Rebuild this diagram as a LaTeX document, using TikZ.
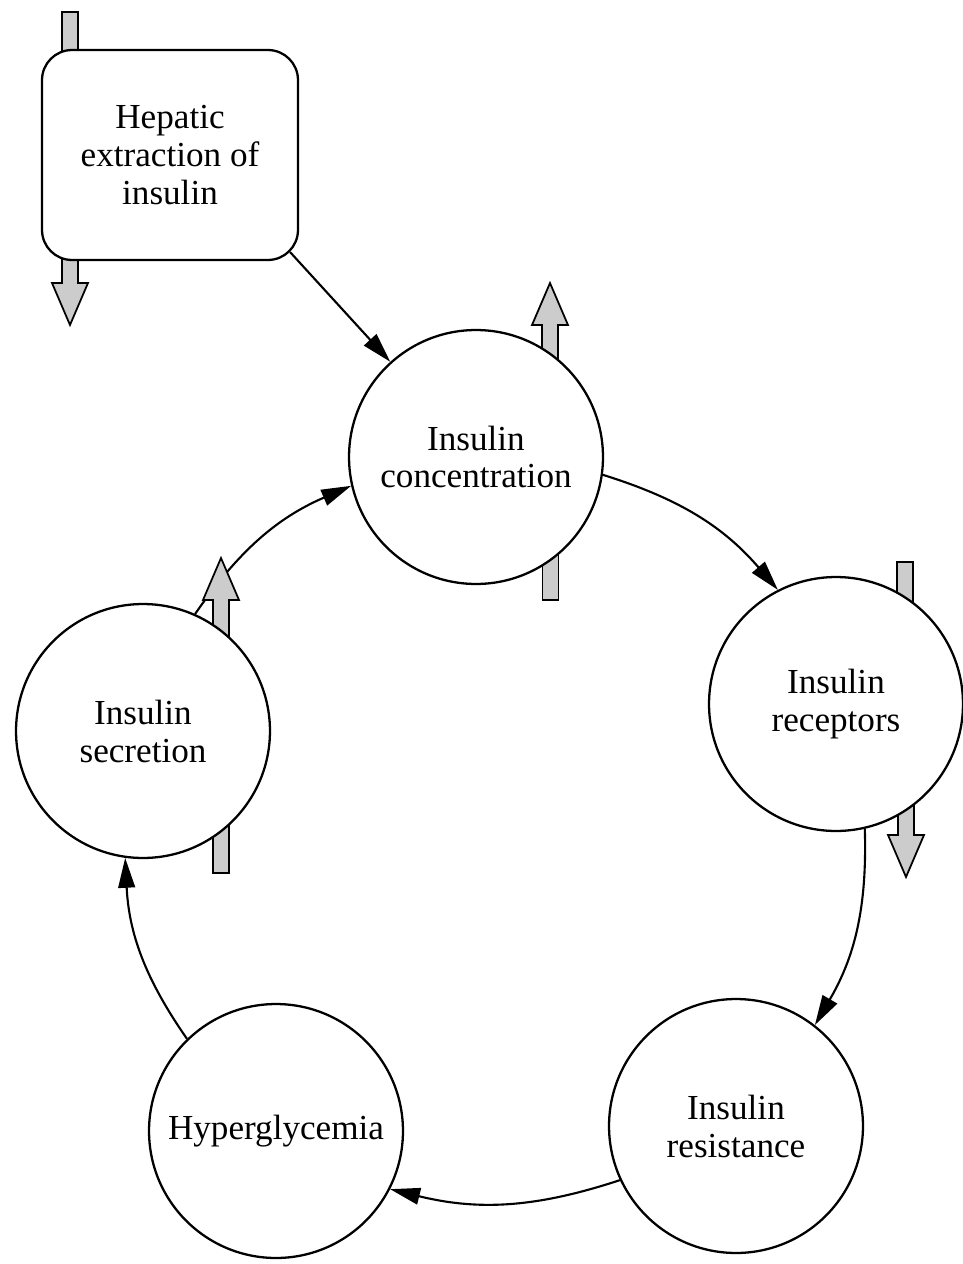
\documentclass[tikz,border=0pt]{standalone}
\usepackage{fontspec}
\setmainfont{Liberation Serif}
\usetikzlibrary{arrows.meta}
\pgfdeclarelayer{bg}
\pgfdeclarelayer{mid}
\pgfsetlayers{bg,mid,main}
\newcommand{\blkarrow}[4]{% centre x, shaft start y, head base y, tip y
  \draw[blk] ({#1-8},#2) -- ({#1-8},#3) -- ({#1-18},#3) -- (#1,#4) -- ({#1+18},#3) -- ({#1+8},#3) -- ({#1+8},#2) -- cycle;}
\begin{document}
\begin{tikzpicture}[x=0.02cm,y=-0.02cm,
  txt/.style={font=\fontsize{20}{21.6}\selectfont, align=center},
  bubble/.style={txt, circle, draw, line width=1.3pt, fill=white, minimum size=5.08cm, inner sep=0pt},
  hepbox/.style={txt, draw, line width=1.3pt, fill=white, rounded corners=0.6cm, minimum width=5.12cm, minimum height=4.2cm},
  conn/.style={line width=1.2pt, -{Triangle[length=17pt,width=9.5pt]}},
  blk/.style={draw, line width=1pt, fill=gray!40}
]
\useasboundingbox (0,0) rectangle (963,1264);

\node[hepbox] (hep) at (170,155) {Hepatic\\extraction of\\insulin};
\node[bubble] (conc) at (476,457) {Insulin\\concentration};
\node[bubble] (rec) at (836,704) {Insulin\\receptors};
\node[bubble] (res) at (736,1126) {Insulin\\resistance};
\node[bubble] (hyp) at (276,1131) {Hyperglycemia};
\node[bubble] (sec) at (143,731) {Insulin\\secretion};

\begin{pgfonlayer}{bg}
\draw[conn] ([shift={(-9,-9)}]hep.south east) -- (conc.132);
\draw[conn] (conc.-8) to[bend left=16] (rec.117);
\draw[conn] (rec.-77) to[bend left=16] (res.52);
\draw[conn] (res.205) to[bend left=16] (hyp.-27);
\draw[conn] (hyp.134) to[bend left=16] (sec.262);
\draw[conn] (sec.66) to[bend left=16] (conc.193);
\end{pgfonlayer}

\begin{pgfonlayer}{mid}
\draw[blk] (62,12) rectangle (78,80);
\blkarrow{70}{240}{283}{325}
\blkarrow{550}{370}{325}{283}
\draw[blk] (542.5,540) rectangle (558.5,600);
\draw[blk] (897,562) rectangle (913,620);
\blkarrow{906}{790}{835}{877}
\blkarrow{221}{650}{600}{558}
\draw[blk] (213,820) rectangle (229,873);
\end{pgfonlayer}
\end{tikzpicture}
\end{document}
